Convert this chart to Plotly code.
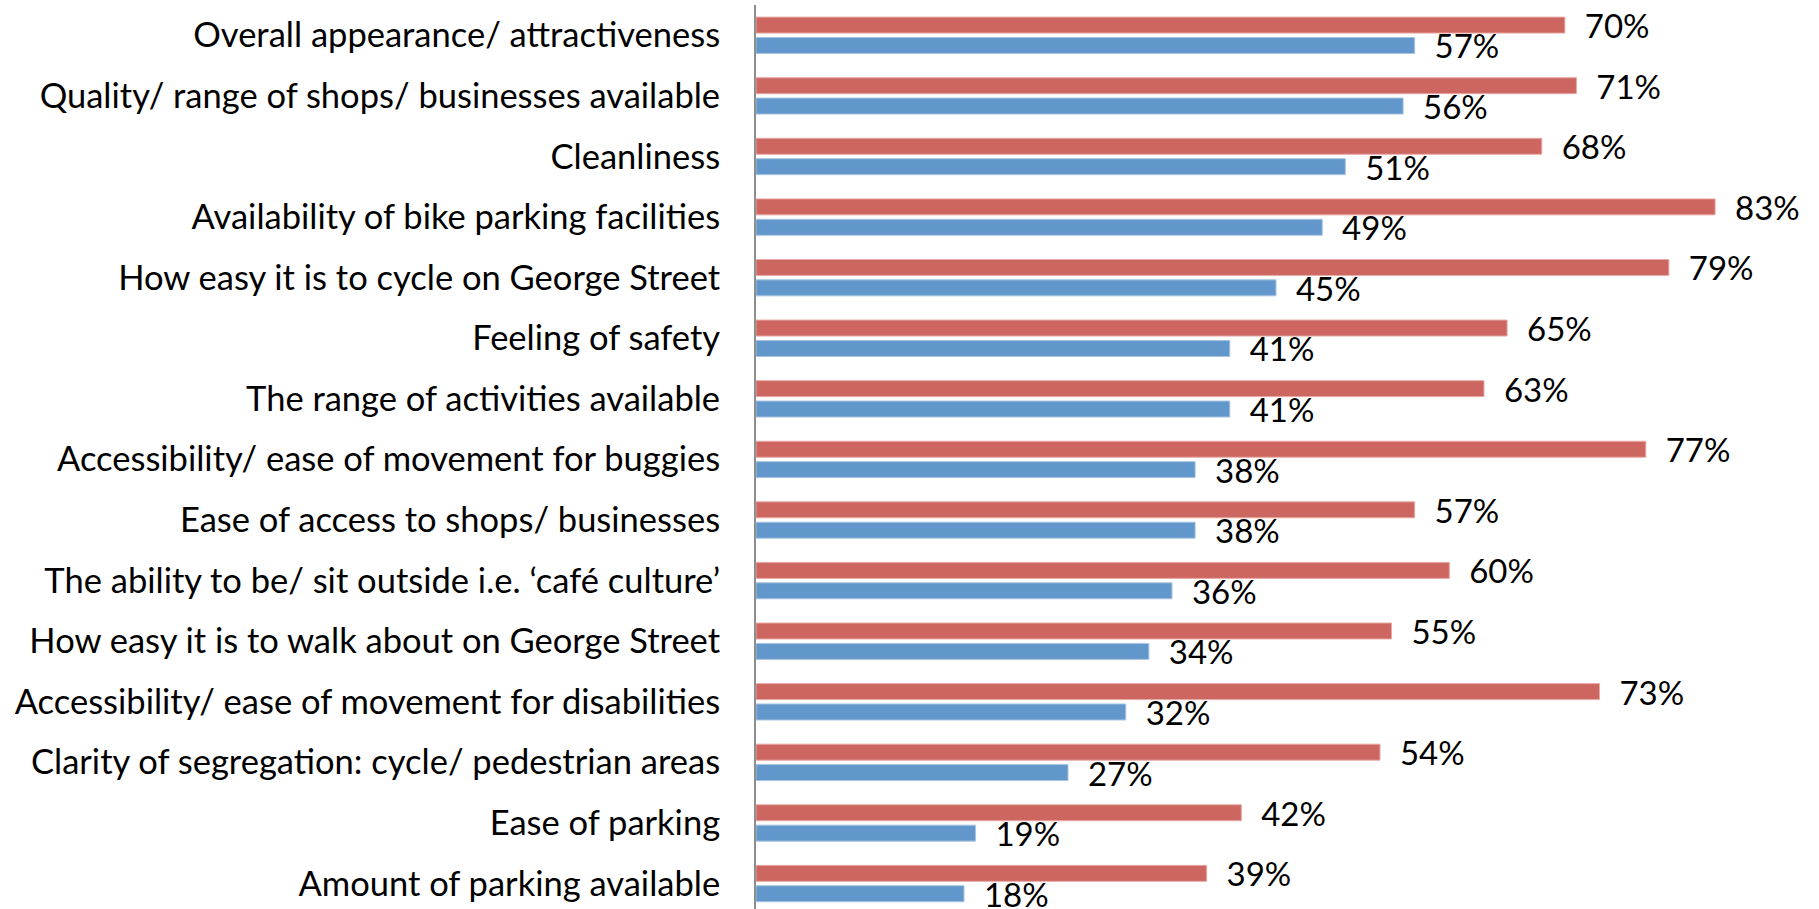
import plotly.graph_objects as go

categories = [
    "Overall appearance/ attractiveness",
    "Quality/ range of shops/ businesses available",
    "Cleanliness",
    "Availability of bike parking facilities",
    "How easy it is to cycle on George Street",
    "Feeling of safety",
    "The range of activities available",
    "Accessibility/ ease of movement for buggies",
    "Ease of access to shops/ businesses",
    "The ability to be/ sit outside i.e. \u2018caf\u00e9 culture\u2019",
    "How easy it is to walk about on George Street",
    "Accessibility/ ease of movement for disabilities",
    "Clarity of segregation: cycle/ pedestrian areas",
    "Ease of parking",
    "Amount of parking available",
]
red_values = [0.70, 0.71, 0.68, 0.83, 0.79, 0.65, 0.63, 0.77, 0.57, 0.60,
              0.55, 0.73, 0.54, 0.42, 0.39]
blue_values = [0.57, 0.56, 0.51, 0.49, 0.45, 0.41, 0.41, 0.38, 0.38, 0.36,
               0.34, 0.32, 0.27, 0.19, 0.18]

RED = "#cd6661"
BLUE = "#6197ca"
FONT = "Lato"
PAD = "\u00a0" * 2

fig = go.Figure()
fig.add_trace(go.Bar(
    y=categories, x=red_values, orientation="h", name="Series 2",
    marker=dict(color=RED, line=dict(color="#e9aaa6", width=1)),
    texttemplate=PAD + "%{x:.0%}", textposition="outside",
    constraintext="none", cliponaxis=False,
    textfont=dict(family=FONT, size=33, color="#000000")))
fig.add_trace(go.Bar(
    y=categories, x=blue_values, orientation="h", name="Series 1",
    marker=dict(color=BLUE, line=dict(color="#a9c4e2", width=1)),
    texttemplate=PAD + "%{x:.0%}", textposition="outside",
    constraintext="none", cliponaxis=False,
    textfont=dict(family=FONT, size=33, color="#000000")))

fig.update_layout(
    width=1819, height=909,
    margin=dict(l=756, r=23, t=5, b=0),
    paper_bgcolor="white", plot_bgcolor="white",
    barmode="group", bargap=0.327, bargroupgap=0.216,
    showlegend=False,
    font=dict(family=FONT, size=34, color="#000000"),
)
fig.update_xaxes(range=[0, 0.9], visible=False, showgrid=False, zeroline=False)
fig.update_yaxes(
    range=[14.42, -0.5], showgrid=False, zeroline=False,
    showline=True, linecolor="#8e8e8e", linewidth=2,
    ticks="", ticklabelstandoff=27,
    tickfont=dict(family=FONT, size=34.5, color="#000000"),
)

# page body has a default 8px margin; drop it so the figure sits at 0,0
fig.write_html("out.html", config={"displayModeBar": False},
               post_script="document.body.style.margin = '0';")
